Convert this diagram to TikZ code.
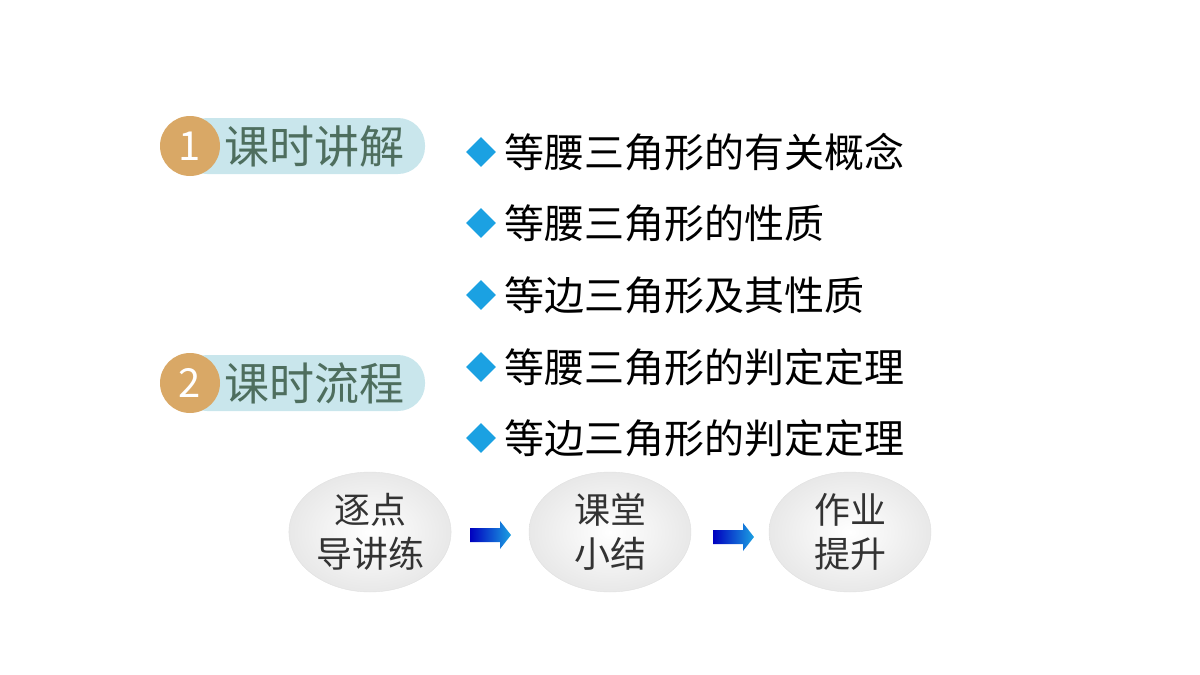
\documentclass[tikz,border=0pt]{standalone}
\usepackage{fontspec}
\setmainfont{Noto Sans CJK SC}
\usetikzlibrary{shapes.geometric}
\definecolor{pillc}{HTML}{C9E6EC}
\definecolor{orng}{HTML}{D9A866}
\definecolor{txtg}{HTML}{4E6E5E}
\definecolor{dia}{HTML}{1BA1E2}
\begin{document}
\begin{tikzpicture}[x=1pt,y=-1pt,
  pill/.style={fill=pillc,rounded corners=27pt},
  badge/.style={circle,fill=orng,minimum size=60pt,inner sep=0pt,text=white,font=\fontsize{40}{40}\selectfont},
  head/.style={anchor=west,text=txtg,font=\fontsize{45}{45}\selectfont,inner sep=0pt},
  item/.style={anchor=west,font=\fontsize{40}{40}\selectfont,inner sep=0pt},
  dmd/.style={diamond,fill=dia,minimum size=30pt,inner sep=0pt},
  bub/.style={ellipse,minimum width=162pt,minimum height=120pt,inner color=white,outer color=black!9,draw=black!12,align=center,font=\fontsize{36}{44}\selectfont,text=black!80},
  arr/.style={left color=blue!75!black,right color=dia}]
\useasboundingbox (0,0) rectangle (1200,675);
\fill[pill] (180,118) rectangle (425,174);
\node[badge] (b1) at (190,146) {1};
\node[head] (h1) at (224,146) {课时讲解};
\fill[pill] (180,355) rectangle (425,411);
\node[badge] (b2) at (190,383) {2};
\node[head] (h2) at (224,383) {课时流程};
\foreach \y/\t [count=\i] in {152/等腰三角形的有关概念,223/等腰三角形的性质,295/等边三角形及其性质,367/等腰三角形的判定定理,438/等边三角形的判定定理}{
  \node[dmd] (d\i) at (481,\y) {};
  \node[item] (t\i) at (504,\y) {\t};
}
\node[bub] (c1) at (370,532) {逐点\\导讲练};
\node[bub] (c2) at (610,532) {课堂\\小结};
\node[bub] (c3) at (850,532) {作业\\提升};
\foreach \x/\y in {470/535,713/537}{
  \shade[arr] (\x,\y-7) -- (\x+30,\y-7) -- (\x+30,\y-14) -- (\x+41,\y) -- (\x+30,\y+14) -- (\x+30,\y+7) -- (\x,\y+7) -- cycle;
}
\end{tikzpicture}
\end{document}
